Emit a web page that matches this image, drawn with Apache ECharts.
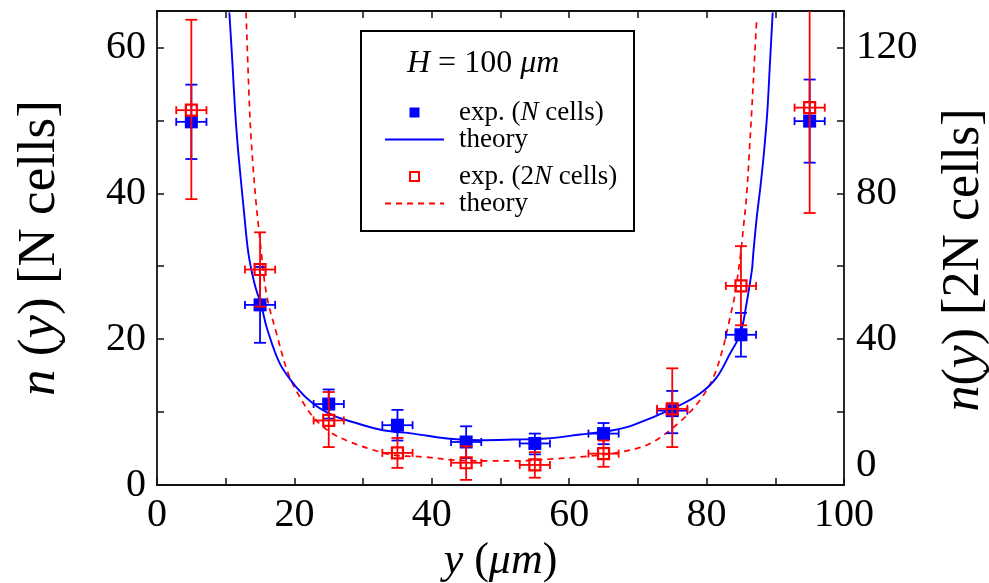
<!DOCTYPE html>
<html>
<head>
<meta charset="utf-8">
<script src="https://cdn.jsdelivr.net/npm/echarts@6/dist/echarts.min.js"></script>
<style>
html,body{margin:0;padding:0;background:#fff;}
#chart{width:989px;height:583px;}
</style>
</head>
<body>
<div id="chart"></div>
<script>
// ---- data ----
var xPos   = [5, 15, 25, 35, 45, 55, 65, 75, 85, 95];
var xErr   = [2.2, 2.2, 2.2, 2.2, 2.2, 2.2, 2.2, 2.2, 2.2, 2.2];
// N cells (left axis)
var nCells = [49.8, 24.7, 11.1, 8.2, 5.9, 5.7, 7.05, 10.2, 20.6, 49.9];
var nLow   = [44.7, 19.5, 9.1, 6.1, 3.7, 4.2, 5.6, 7.1, 17.6, 44.2];
var nHigh  = [54.9, 29.9, 13.1, 10.3, 8.05, 7.05, 8.5, 12.9, 23.6, 55.6];
// 2N cells (right axis)
var n2Cells = [102.8, 59.1, 17.7, 8.8, 6.1, 5.5, 8.6, 20.9, 54.6, 103.5];
var n2Low   = [78.4, 48.9, 10.4, 4.7, 1.4, 2.0, 5.0, 10.4, 43.8, 74.6];
var n2High  = [127.6, 69.3, 25.5, 12.9, 10.6, 9.0, 12.2, 32.0, 65.5, 132.4];
// theory curve, N cells (left axis)
var thXN = [10.53, 10.97, 11.35, 11.74, 12.18, 12.66, 13.3, 14.2, 15.24, 15.97, 17.9, 20.3, 22.8, 25.7, 28.6, 32.9, 37.3, 42.2, 47.0, 51.9, 56.7, 61.6, 66.4, 69.3, 75.6, 79.0, 81.5, 83.4, 84.9, 85.8, 86.6, 86.8, 87.29, 87.87, 88.36, 88.84, 89.23, 89.62];
var thYN = [64.8, 58.0, 51.6, 46.6, 42.1, 37.5, 31.8, 27.6, 24.4, 21.6, 16.6, 13.4, 11.1, 9.5, 8.6, 7.5, 7.05, 6.37, 6.14, 6.23, 6.37, 6.92, 7.5, 8.2, 10.7, 12.5, 14.8, 18.0, 20.7, 24.8, 29.5, 31.8, 36.6, 41.2, 45.7, 51.2, 58.0, 64.8];
// theory curve, 2N cells (right axis)
var thX2N = [12.96, 13.45, 13.7, 14.0, 14.4, 14.8, 15.14, 15.97, 17.42, 19.11, 20.8, 22.75, 25.2, 28.1, 31.5, 34.4, 38.8, 43.6, 48.5, 51.9, 58.7, 61.6, 67.4, 71.8, 76.1, 79.0, 81.0, 82.4, 83.4, 84.1, 84.96, 85.35, 85.83, 86.22, 86.56, 86.95, 87.29];
var thY2N = [129.6, 104.2, 95, 86.9, 77.8, 70.5, 64.5, 52.0, 41.4, 30.5, 24.1, 18.6, 14.5, 11.8, 9.6, 8.2, 7.7, 6.8, 6.6, 6.6, 7.3, 7.7, 9.0, 11.4, 17.3, 23.2, 29.6, 37.7, 45.9, 52.0, 63.5, 70.5, 79.6, 91.4, 102.4, 116, 127.8];

var FONT = 'Liberation Serif';
var BLUE = '#0000ff';
var RED = '#ff0000';

function zip(a, b) { return a.map(function (v, i) { return [v, b[i]]; }); }
function errData(ys, lo, hi) {
  return xPos.map(function (x, i) { return [x, ys[i], lo[i], hi[i], xErr[i]]; });
}
function errRender(color) {
  return function (params, api) {
    var x = api.value(0), y = api.value(1), l = api.value(2), h = api.value(3), e = api.value(4);
    var pl = api.coord([x, l]), ph = api.coord([x, h]);
    var xl = api.coord([x - e, y]), xr = api.coord([x + e, y]);
    var cw = 6, ch = 4;
    var st = { stroke: color, lineWidth: 1.8, fill: null };
    function ln(x1, y1, x2, y2) { return { type: 'line', shape: { x1: x1, y1: y1, x2: x2, y2: y2 }, style: st }; }
    return {
      type: 'group',
      children: [
        ln(pl[0], pl[1], ph[0], ph[1]),
        ln(pl[0] - cw, pl[1], pl[0] + cw, pl[1]),
        ln(ph[0] - cw, ph[1], ph[0] + cw, ph[1]),
        ln(xl[0], xl[1], xr[0], xr[1]),
        ln(xl[0], xl[1] - ch, xl[0], xl[1] + ch),
        ln(xr[0], xr[1] - ch, xr[0], xr[1] + ch)
      ]
    };
  };
}

var chart = echarts.init(document.getElementById('chart'), null, { renderer: 'canvas' });

var axisCommon = {
  axisLine: { show: true, onZero: false, lineStyle: { color: '#111', width: 1.8 } },
  axisTick: { show: true, inside: true, length: 7, lineStyle: { color: '#111', width: 1.5 } },
  minorTick: { show: true, splitNumber: 2, length: 7, lineStyle: { color: '#111', width: 1.5 } },
  splitLine: { show: false },
  minorSplitLine: { show: false }
};

var nameMap = {
  'exp. (N cells)': 'exp. ({i|N} cells)',
  'theory (N)': 'theory',
  'exp. (2N cells)': 'exp. (2{i|N} cells)',
  'theory (2N)': 'theory'
};
var legendText = {
  fontFamily: FONT, fontSize: 27, color: '#000', lineHeight: 27,
  padding: [0, 0, 0, 10],
  rich: { i: { fontFamily: FONT, fontSize: 27, fontStyle: 'italic', color: '#000' } }
};
var SQ = 'path://M0 0H10V10H0Z';

var option = {
  backgroundColor: '#fff',
  animation: false,
  textStyle: { fontFamily: FONT },
  grid: { left: 157, right: 145, top: 11, bottom: 98, containLabel: false, outerBoundsMode: 'none' },
  title: {
    text: '{i|H} = 100 {i|μm}',
    left: 402, top: 43,
    textStyle: {
      fontFamily: FONT, fontSize: 32, fontWeight: 'normal', color: '#000',
      rich: { i: { fontFamily: FONT, fontSize: 32, fontStyle: 'italic', color: '#000' } }
    }
  },
  legend: [
    {
      data: [{ name: 'exp. (N cells)', icon: SQ }, { name: 'theory (N)', itemStyle: { opacity: 0 } }],
      orient: 'vertical', left: 379, top: 94, itemGap: 0,
      itemWidth: 59, itemHeight: 10, selectedMode: false,
      formatter: function (n) { return nameMap[n]; },
      textStyle: legendText
    },
    {
      data: [{ name: 'exp. (2N cells)', icon: SQ }, { name: 'theory (2N)', itemStyle: { opacity: 0 } }],
      orient: 'vertical', left: 379, top: 158, itemGap: 0,
      itemWidth: 59, itemHeight: 9, selectedMode: false,
      formatter: function (n) { return nameMap[n]; },
      textStyle: legendText
    }
  ],
  graphic: [
    { type: 'rect', left: 360, top: 30, shape: { width: 273, height: 200 },
      style: { fill: 'transparent', stroke: '#000', lineWidth: 2 }, z: 100 }
  ],
  xAxis: [
    Object.assign({}, axisCommon, {
      type: 'value', min: 0, max: 100, interval: 20, position: 'bottom',
      axisLabel: { show: true, fontFamily: FONT, fontSize: 40, color: '#000', margin: 10 },
      name: '{i|y} ({i|μm})', nameLocation: 'middle', nameGap: 44,
      nameTextStyle: { fontFamily: FONT, fontSize: 44, color: '#000',
        rich: { i: { fontFamily: FONT, fontSize: 44, fontStyle: 'italic', color: '#000' } } }
    }),
    Object.assign({}, axisCommon, {
      type: 'value', min: 0, max: 100, interval: 20, position: 'top',
      axisLabel: { show: false }
    })
  ],
  yAxis: [
    Object.assign({}, axisCommon, {
      type: 'value', min: 0, max: 65, interval: 20, position: 'left',
      axisLabel: { show: true, fontFamily: FONT, fontSize: 40, color: '#000', margin: 11, showMaxLabel: false },
      name: '{i|n} ({i|y}) [N cells]', nameLocation: 'middle', nameGap: 90, nameRotate: 90,
      nameTextStyle: { fontFamily: FONT, fontSize: 53, color: '#000',
        rich: { i: { fontFamily: FONT, fontSize: 53, fontStyle: 'italic', color: '#000' } } }
    }),
    Object.assign({}, axisCommon, {
      type: 'value', min: 0, max: 130, interval: 40, position: 'right',
      axisLabel: {
        show: true, fontFamily: FONT, fontSize: 41, color: '#000', margin: 12, showMaxLabel: false,
        formatter: function (v) { return v === 0 ? '{z|0}' : String(v); },
        rich: { z: { fontFamily: FONT, fontSize: 41, color: '#000', padding: [0, 0, 40, 0] } }
      },
      name: '{i|n}({i|y}) [2N cells]', nameLocation: 'middle', nameGap: 94, nameRotate: 90,
      nameTextStyle: { fontFamily: FONT, fontSize: 52, color: '#000', padding: [0, 24, 0, 0],
        rich: { i: { fontFamily: FONT, fontSize: 52, fontStyle: 'italic', color: '#000' } } }
    })
  ],
  series: [
    {
      name: 'theory (2N)', type: 'line', xAxisIndex: 0, yAxisIndex: 1,
      data: zip(thX2N, thY2N), smooth: 0.35, showSymbol: false, symbol: 'none',
      clip: true,
      lineStyle: { color: RED, width: 1.7, type: [6, 5] }, itemStyle: { color: RED }, z: 2
    },
    {
      name: 'theory (N)', type: 'line', xAxisIndex: 0, yAxisIndex: 0,
      data: zip(thXN, thYN), smooth: 0.35, showSymbol: false, symbol: 'none',
      clip: true,
      lineStyle: { color: BLUE, width: 1.9 }, itemStyle: { color: BLUE }, z: 2
    },
    {
      type: 'custom', xAxisIndex: 0, yAxisIndex: 0, clip: true,
      data: errData(nCells, nLow, nHigh), renderItem: errRender(BLUE),
      encode: { x: 0, y: 1 }, z: 3, silent: true
    },
    {
      name: 'exp. (N cells)', type: 'scatter', xAxisIndex: 0, yAxisIndex: 0,
      data: zip(xPos, nCells), symbol: 'rect', symbolSize: 13,
      itemStyle: { color: BLUE, opacity: 1 }, z: 4
    },
    {
      type: 'custom', xAxisIndex: 0, yAxisIndex: 1, clip: true,
      data: errData(n2Cells, n2Low, n2High), renderItem: errRender(RED),
      encode: { x: 0, y: 1 }, z: 5, silent: true
    },
    {
      name: 'exp. (2N cells)', type: 'scatter', xAxisIndex: 0, yAxisIndex: 1,
      data: zip(xPos, n2Cells), symbol: 'rect', symbolSize: 11,
      itemStyle: { color: 'rgba(255,255,255,0)', borderColor: RED, borderWidth: 2.2, opacity: 1 }, z: 6
    }
  ]
};
chart.setOption(option);
</script>
</body>
</html>
